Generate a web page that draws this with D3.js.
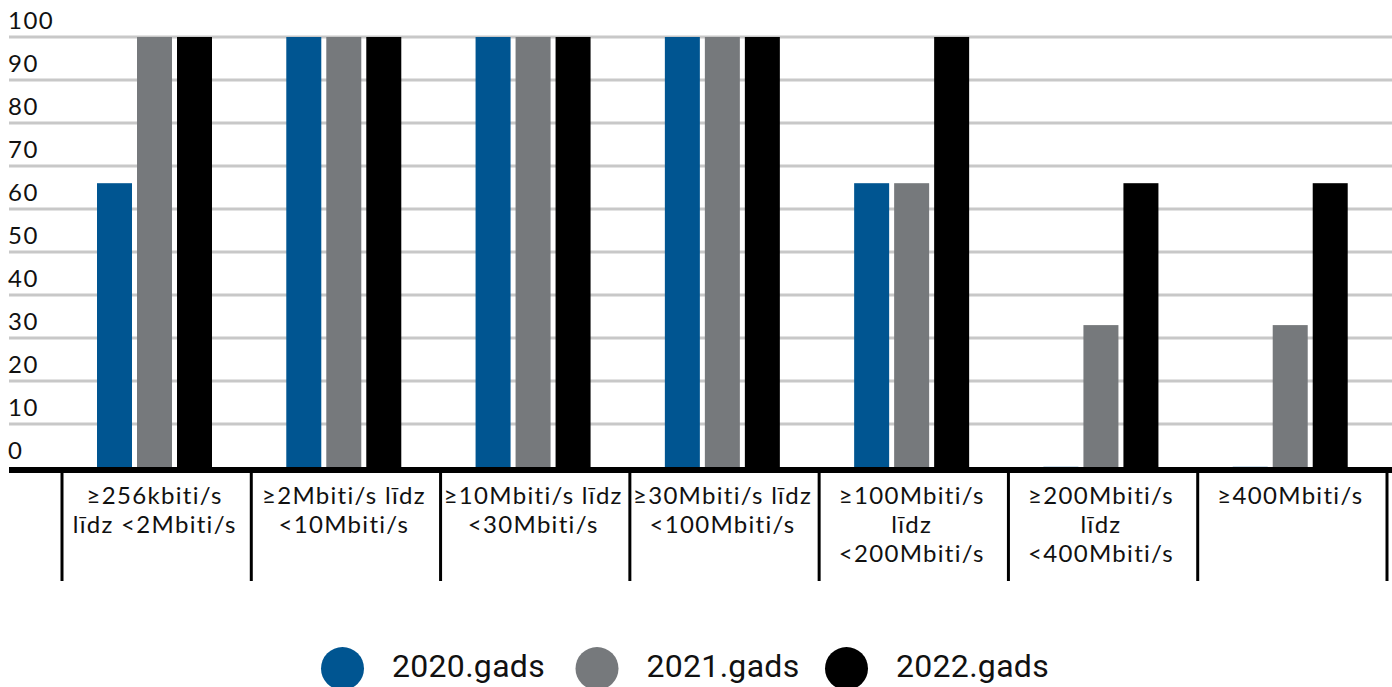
<!DOCTYPE html>
<html>
<head>
<meta charset="utf-8">
<script src="https://cdn.jsdelivr.net/npm/d3@7"></script>
<style>
  html, body { margin: 0; padding: 0; background: #ffffff; }
  svg { display: block; }
</style>
</head>
<body>
<svg id="chart" width="1392" height="687"></svg>
<script>
// Speed brackets (each label split into the lines it is printed on)
const categories = [
  ["≥256kbiti/s", "līdz <2Mbiti/s"],
  ["≥2Mbiti/s līdz", "<10Mbiti/s"],
  ["≥10Mbiti/s līdz", "<30Mbiti/s"],
  ["≥30Mbiti/s līdz", "<100Mbiti/s"],
  ["≥100Mbiti/s", "līdz", "<200Mbiti/s"],
  ["≥200Mbiti/s", "līdz", "<400Mbiti/s"],
  ["≥400Mbiti/s"]
];
const years = ["2020.gads", "2021.gads", "2022.gads"];
const values2020 = [66, 100, 100, 100, 66, 0, 0];
const values2021 = [100, 100, 100, 100, 66, 33, 33];
const values2022 = [100, 100, 100, 100, 100, 66, 66];
const yTicks = [0, 10, 20, 30, 40, 50, 60, 70, 80, 90, 100];

const series = [values2020, values2021, values2022];
const colors = ["#005591", "#76797c", "#000000"];

const svg = d3.select("#chart");
const catIdx = categories.map((_, i) => i);

const x = d3.scaleBand().domain(catIdx).range([62, 1387]).paddingInner(0).paddingOuter(0);
const xInner = d3.scaleBand().domain(years).range([35, 150]).paddingInner(0.125).paddingOuter(0);
const y = d3.scaleLinear().domain([0, 100]).range([467, 37]);
const color = d3.scaleOrdinal().domain(years).range(colors);

// Horizontal gridlines
svg.append("g").selectAll("line")
  .data(yTicks.filter(t => t > 0))
  .join("line")
  .attr("x1", 9).attr("x2", 1392)
  .attr("y1", d => y(d)).attr("y2", d => y(d))
  .attr("stroke", "#c8c8c8").attr("stroke-width", 3);

// Value labels sit just above each gridline
svg.append("g").selectAll("text")
  .data(yTicks)
  .join("text")
  .attr("x", 8)
  .attr("y", d => y(d) - 8)
  .attr("font-family", "Lato, 'Open Sans', sans-serif")
  .attr("font-size", 24)
  .attr("letter-spacing", 1.5)
  .attr("fill", "#111")
  .text(d => d);

// Bars
const groups = svg.append("g").selectAll("g")
  .data(catIdx)
  .join("g")
  .attr("transform", i => `translate(${x(i)},0)`);

groups.selectAll("rect")
  .data(i => years.map((yr, k) => ({ yr, v: series[k][i] })))
  .join("rect")
  .attr("x", d => xInner(d.yr))
  .attr("width", xInner.bandwidth())
  .attr("y", d => d.v > 0 ? y(d.v) : y(0) - 1)
  .attr("height", d => d.v > 0 ? y(0) - y(d.v) : 1)
  .attr("fill", d => color(d.yr))
  .attr("fill-opacity", d => d.v > 0 ? 1 : 0.2);

// Baseline axis
svg.append("line")
  .attr("x1", 9).attr("x2", 1392)
  .attr("y1", y(0) + 3).attr("y2", y(0) + 3)
  .attr("stroke", "#000").attr("stroke-width", 6);

// Category dividers
svg.append("g").selectAll("line")
  .data(d3.range(categories.length + 1))
  .join("line")
  .attr("x1", i => x.range()[0] + i * x.step())
  .attr("x2", i => x.range()[0] + i * x.step())
  .attr("y1", y(0) + 3).attr("y2", 581)
  .attr("stroke", "#000").attr("stroke-width", 3);

// Category labels
const labels = svg.append("g").selectAll("text")
  .data(catIdx)
  .join("text")
  .attr("x", i => x(i) + x.bandwidth() / 2 - 2)
  .attr("y", 504)
  .attr("text-anchor", "middle")
  .attr("font-family", "Lato, 'Open Sans', sans-serif")
  .attr("font-size", 24)
  .attr("letter-spacing", 1.3)
  .attr("fill", "#111");
labels.selectAll("tspan")
  .data(i => categories[i])
  .join("tspan")
  .attr("x", function () { return d3.select(this.parentNode).attr("x"); })
  .attr("dy", (d, k) => k === 0 ? 0 : 29)
  .text(d => d);

// Legend
const legendX = [342.5, 597, 846.5];
const legend = svg.append("g").selectAll("g")
  .data(years)
  .join("g")
  .attr("transform", (d, k) => `translate(${legendX[k]},668.5)`);
legend.append("circle")
  .attr("r", 21.5)
  .attr("fill", d => color(d));
legend.append("text")
  .attr("x", 49.5)
  .attr("y", 8.5)
  .attr("font-family", "Roboto, sans-serif")
  .attr("font-size", 32)
  .attr("letter-spacing", 0.3)
  .attr("fill", "#111")
  .text(d => d);
</script>
</body>
</html>
